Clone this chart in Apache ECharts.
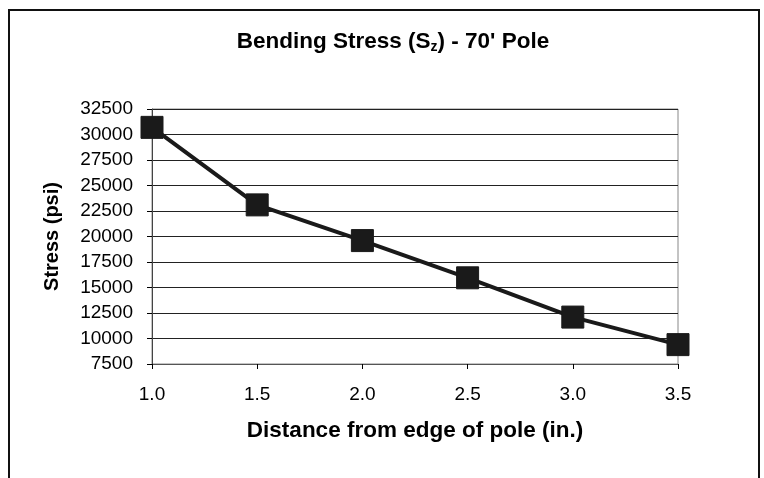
<!DOCTYPE html>
<html>
<head>
<meta charset="utf-8">
<script src="https://cdn.jsdelivr.net/npm/echarts@6/dist/echarts.min.js"></script>
<style>html,body{margin:0;padding:0;background:#fff}#c{width:764px;height:478px}</style>
</head>
<body>
<div id="c"></div>
<script>
const distances = [1.0, 1.5, 2.0, 2.5, 3.0, 3.5];
const stress = [30700, 23100, 19600, 15950, 12100, 9400];
const chartTitle = "Bending Stress (S{sub|z}) - 70' Pole";
const xTitle = 'Distance from edge of pole (in.)';
const yTitle = 'Stress (psi)';

const chart = echarts.init(document.getElementById('c'), null, {renderer: 'canvas'});
const font = 'Liberation Sans, Arial, sans-serif';
chart.setOption({
  animation: false,
  backgroundColor: '#fff',
  title: {
    text: chartTitle,
    left: 388, top: 25, textAlign: 'center',
    textStyle: {
      fontFamily: font, fontWeight: 'bold', fontSize: 22.5, color: '#000',
      rich: { sub: { fontFamily: font, fontWeight: 'bold', fontSize: 14, verticalAlign: 'bottom', padding: [10,0,0,0], color: '#000' } }
    }
  },
  graphic: [{
    type: 'rect', shape: {x: 9, y: 10, width: 750, height: 480}, z: 100,
    style: {fill: 'none', stroke: '#111', lineWidth: 2}
  }],
  grid: { left: 152, right: 86, top: 109, bottom: 114, show: true, borderColor: '#888', borderWidth: 1 },
  xAxis: {
    type: 'value', min: 1, max: 3.5, interval: 0.5,
    name: xTitle, nameLocation: 'middle', nameGap: 55,
    nameTextStyle: {fontFamily: font, fontWeight: 'bold', fontSize: 22.5, color: '#000'},
    axisLine: {show: true, lineStyle: {color: '#555', width: 1}},
    axisTick: {show: true, length: 5, lineStyle: {color: '#000'}},
    axisLabel: {fontFamily: font, fontSize: 19, color: '#000', margin: 21, formatter: v => v.toFixed(1)},
    splitLine: {show: false}
  },
  yAxis: {
    type: 'value', min: 7500, max: 32500, interval: 2500,
    name: yTitle, nameLocation: 'middle', nameGap: 90, nameRotate: 90,
    nameTextStyle: {fontFamily: font, fontWeight: 'bold', fontSize: 20, color: '#000'},
    axisLine: {show: true, lineStyle: {color: '#444', width: 1}},
    axisTick: {show: true, length: 5, lineStyle: {color: '#000'}},
    axisLabel: {fontFamily: font, fontSize: 19, color: '#000', margin: 19, formatter: v => String(v)},
    splitLine: {show: true, lineStyle: {color: '#222', width: 1}}
  },
  series: [{
    type: 'line',
    data: distances.map((d, i) => [d, stress[i]]),
    symbol: 'rect', symbolSize: 22,
    itemStyle: {color: '#1a1a1a', borderColor: '#1a1a1a'},
    lineStyle: {color: '#1a1a1a', width: 4},
    z: 10
  }]
});
</script>
</body>
</html>
